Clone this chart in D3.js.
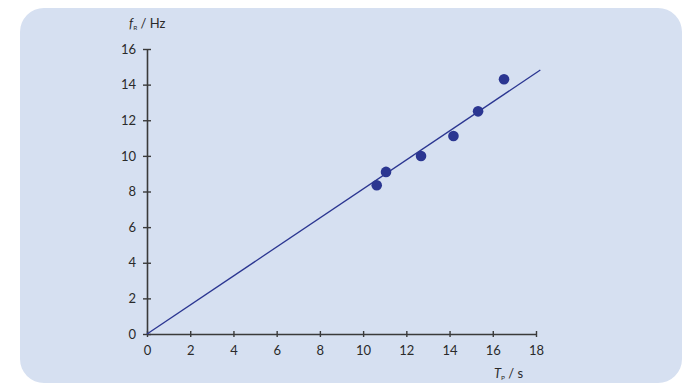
<!DOCTYPE html>
<html>
<head>
<meta charset="utf-8">
<script src="https://cdn.jsdelivr.net/npm/d3@7"></script>
<style>
  body { margin: 0; background: #fff; }
  text { font-family: Lato, "Open Sans", sans-serif; fill: #2a2a2a; }
</style>
</head>
<body>
<div id="container"></div>
<script>
/**
 * DATA
 * */
const periods = [10.63, 11.06, 12.68, 14.18, 15.32, 16.52];   // T_P / s
const freqs   = [8.35, 9.10, 9.99, 11.12, 12.50, 14.30];      // f_R / Hz
const fitLine = [[0, 0], [18.2, 14.82]];
const xTicks = [0, 2, 4, 6, 8, 10, 12, 14, 16, 18];
const yTicks = [0, 2, 4, 6, 8, 10, 12, 14, 16];

/**
 * CONSTANTS
 * */
const width = 687, height = 385;
const margin = {top: 49, bottom: 51, left: 147, right: 151};
const ink = "#3a3a3a", blue = "#2b3691";
const fontSize = "13px";

const svg = d3.select("#container")
  .append("svg")
  .attr("width", width)
  .attr("height", height);

// panel
svg.append("rect")
  .attr("x", 20).attr("y", 8)
  .attr("width", 662).attr("height", 375)
  .attr("rx", 24)
  .attr("fill", "#d6e0f1");

const x = d3.scaleLinear().domain([0, 18]).range([margin.left, width - margin.right]);
const y = d3.scaleLinear().domain([0, 16]).range([height - margin.bottom, margin.top]);

// axes: ticks cross the line
const xAxis = svg.append("g")
  .attr("transform", `translate(0,${y(0)})`)
  .call(d3.axisBottom(x).tickValues(xTicks).tickSize(0).tickPadding(12));
xAxis.selectAll(".tick").append("line")
  .attr("y1", -3).attr("y2", 3).attr("stroke", ink);

const yAxis = svg.append("g")
  .attr("transform", `translate(${x(0)},0)`)
  .call(d3.axisLeft(y).tickValues(yTicks).tickSize(0).tickPadding(11));
yAxis.selectAll(".tick").append("line")
  .attr("x1", -4).attr("x2", 4).attr("stroke", ink);

svg.selectAll(".domain").attr("stroke", ink).attr("stroke-width", 1.6);
svg.selectAll(".tick line").attr("stroke-width", 1.4);
svg.selectAll(".tick text")
  .attr("fill", "#2a2a2a")
  .style("font-size", fontSize)
  .style("font-family", 'Lato, "Open Sans", sans-serif');

// axis labels
const yl = svg.append("text").attr("x", 129).attr("y", 28).style("font-size", fontSize);
yl.append("tspan").text("f").style("font-style", "italic");
yl.append("tspan").text("R").attr("dy", 2).style("font-size", "6.5px");
yl.append("tspan").text(" / Hz").attr("dy", -2);

const xl = svg.append("text").attr("x", 494).attr("y", 378).style("font-size", fontSize);
xl.append("tspan").text("T").style("font-style", "italic");
xl.append("tspan").text("P").attr("dy", 2).style("font-size", "6.5px");
xl.append("tspan").text(" / s").attr("dy", -2);

// fit line
svg.append("path")
  .datum(fitLine)
  .attr("d", d3.line().x(d => x(d[0])).y(d => y(d[1])))
  .attr("stroke", blue)
  .attr("stroke-width", 1.3)
  .attr("fill", "none");

// points
svg.selectAll("circle.pt")
  .data(periods)
  .join("circle")
  .attr("class", "pt")
  .attr("cx", d => x(d))
  .attr("cy", (d, i) => y(freqs[i]))
  .attr("r", 5.3)
  .attr("fill", blue);
</script>
</body>
</html>
